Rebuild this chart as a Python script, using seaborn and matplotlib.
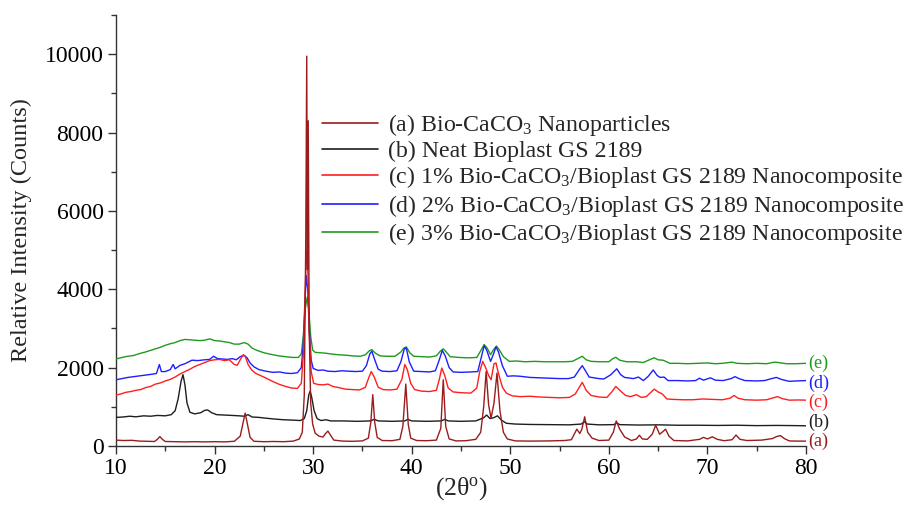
import numpy as np
import pandas as pd
import matplotlib
matplotlib.use("Agg")
import matplotlib.pyplot as plt
from matplotlib.ticker import MultipleLocator
import seaborn as sns

# ---- XRD patterns: 2-theta (deg) and intensity (counts) ----
a_tt = [10.0, 10.8, 11.6, 12.4, 13.2, 13.9, 14.2, 14.45, 14.7, 15.0, 16.0, 17.0, 18.0, 19.0, 20.0,
        21.0, 22.0, 22.6, 22.9, 23.1, 23.3, 23.6, 24.0, 25.0, 26.0, 27.0, 28.0, 28.6, 28.9, 29.1,
        29.25, 29.35, 29.42, 29.5, 29.6, 29.75, 29.95, 30.2, 30.6, 31.0, 31.3, 31.5, 31.75, 32.1,
        33.0, 34.0, 35.0, 35.6, 35.85, 36.05, 36.25, 36.5, 37.0, 38.0, 38.8, 39.1, 39.4, 39.65,
        39.9, 40.5, 41.5, 42.5, 42.95, 43.2, 43.45, 43.8, 44.5, 45.5, 46.5, 47.0, 47.3, 47.55,
        47.8, 48.05, 48.35, 48.65, 48.95, 49.3, 49.7, 50.5, 52.0, 54.0, 55.5, 56.2, 56.75, 57.05,
        57.25, 57.55, 57.85, 58.3, 59.0, 60.0, 60.45, 60.75, 61.1, 61.6, 62.3, 62.8, 63.1, 63.4,
        63.9, 64.4, 64.75, 65.15, 65.5, 65.75, 66.1, 66.6, 68.0, 69.2, 69.6, 70.0, 70.5, 71.0,
        71.7, 72.5, 72.9, 73.3, 74.0, 75.5, 76.6, 77.0, 77.4, 77.8, 78.3, 79.0, 80.0]
a_cnt = [150, 140, 145, 125, 120, 115, 170, 240, 170, 115, 110, 105, 110, 105, 110,
         105, 120, 250, 600, 840, 600, 220, 120, 110, 115, 110, 125, 180, 350, 1300,
         5200, 9950, 4500, 8300, 3000, 1100, 560, 330, 250, 230, 330, 380, 280, 150,
         125, 120, 130, 200, 600, 1310, 600, 220, 140, 135, 170, 500, 1580, 550,
         200, 140, 135, 150, 450, 1690, 500, 180, 130, 135, 170, 350, 1000, 1900,
         1050, 710, 1100, 1860, 900, 350, 180, 130, 125, 130, 140, 160, 430, 320,
         420, 745, 350, 200, 140, 150, 350, 640, 430, 230, 140, 180, 275, 180,
         170, 300, 530, 300, 370, 430, 250, 140, 130, 170, 220, 180, 235, 170,
         135, 160, 280, 170, 140, 150, 190, 240, 265, 190, 130, 125, 125]

b_tt = [10.0, 10.7, 11.4, 12.0, 12.8, 13.5, 14.2, 15.0, 15.6, 16.0, 16.3, 16.6, 16.8, 17.0, 17.2,
        17.5, 18.0, 18.6, 19.0, 19.3, 19.7, 20.2, 21.0, 21.8, 22.5, 23.0, 23.4, 23.8, 24.5, 25.2,
        26.0, 27.0, 28.0, 28.7, 29.1, 29.35, 29.55, 29.7, 29.85, 30.1, 30.4, 30.8, 31.3, 31.8,
        33.0, 34.5, 35.8, 36.2, 36.6, 38.0, 39.3, 39.6, 40.0, 41.5, 43.0, 43.35, 43.7, 45.0,
        46.5, 47.3, 47.6, 47.95, 48.3, 48.7, 49.1, 49.6, 50.5, 52.0, 54.0, 56.0, 57.2, 57.5,
        57.8, 59.0, 60.5, 60.8, 61.1, 63.0, 65.0, 67.0, 69.0, 71.0, 73.0, 75.0, 77.0, 79.0, 80.0]
b_cnt = [730, 740, 760, 745, 770, 760, 780, 770, 800, 900, 1200, 1650, 1820, 1550, 1100,
         860, 820, 850, 910, 920, 850, 800, 790, 780, 770, 760, 800, 740, 730, 710,
         690, 670, 660, 650, 700, 900, 1300, 1400, 1250, 900, 700, 650, 670, 640,
         640, 630, 640, 680, 640, 630, 640, 680, 640, 630, 640, 680, 640, 630,
         640, 720, 790, 700, 720, 770, 660, 580, 560, 550, 545, 540, 560, 620,
         560, 540, 545, 590, 545, 535, 540, 530, 530, 525, 530, 520, 525, 520, 515]

c_tt = [10.0, 10.5, 11.0, 11.5, 12.0, 12.5, 13.0, 13.5, 14.0, 14.5, 15.0, 15.5, 16.0, 16.5, 17.0,
        17.5, 18.0, 18.5, 19.0, 19.5, 20.0, 20.5, 21.0, 21.5, 22.0, 22.3, 22.6, 22.9, 23.1, 23.4,
        23.8, 24.2, 25.0, 25.8, 26.5, 27.2, 27.8, 28.4, 28.8, 29.05, 29.2, 29.32, 29.45, 29.6,
        29.8, 30.05, 30.5, 31.0, 31.5, 32.0, 32.6, 33.3, 34.0, 34.7, 35.3, 35.65, 35.9, 36.2,
        36.6, 37.1, 37.8, 38.5, 39.0, 39.3, 39.55, 39.9, 40.3, 41.0, 41.8, 42.5, 42.8, 43.05,
        43.35, 43.7, 44.2, 45.0, 46.0, 46.6, 46.9, 47.2, 47.5, 47.8, 48.05, 48.35, 48.55, 48.8,
        49.2, 49.6, 50.2, 51.0, 52.0, 53.0, 54.0, 55.0, 56.0, 56.6, 57.0, 57.3, 57.7, 58.2,
        59.0, 59.8, 60.3, 60.7, 61.2, 61.7, 62.2, 62.8, 63.3, 63.8, 64.3, 64.6, 65.0, 65.4,
        65.9, 66.5, 67.5, 68.5, 69.5, 70.5, 71.5, 72.3, 72.7, 73.1, 73.8, 75.0, 76.0, 76.7,
        77.1, 77.6, 78.3, 79.2, 80.0]
c_cnt = [1300, 1330, 1370, 1390, 1420, 1440, 1490, 1520, 1580, 1610, 1660, 1700, 1760, 1840, 1900,
         1960, 2030, 2080, 2130, 2180, 2200, 2210, 2180, 2200, 2080, 2060, 2200, 2330, 2300, 2080,
         1930, 1850, 1760, 1660, 1580, 1520, 1480, 1470, 1600, 2500, 4000, 5000, 4600, 2900,
         1900, 1600, 1570, 1560, 1580, 1520, 1490, 1450, 1440, 1430, 1500, 1750, 1900, 1760,
         1500, 1440, 1430, 1450, 1700, 2080, 1950, 1600, 1440, 1400, 1390, 1420, 1700, 1990,
         1800, 1480, 1380, 1360, 1350, 1480, 1900, 2160, 2000, 1800, 1690, 2100, 2120, 1850,
         1500, 1350, 1280, 1260, 1270, 1250, 1240, 1230, 1240, 1330, 1500, 1625, 1420, 1290,
         1250, 1240, 1380, 1520, 1400, 1290, 1260, 1310, 1240, 1260, 1380, 1450, 1380, 1330,
         1200, 1190, 1180, 1180, 1200, 1190, 1180, 1220, 1290, 1220, 1180, 1170, 1180, 1230,
         1260, 1210, 1170, 1175, 1170]

d_tt = [10.0, 10.6, 11.2, 11.8, 12.4, 13.0, 13.6, 14.1, 14.4, 14.6, 15.0, 15.5, 15.8, 16.0, 16.5,
        17.0, 17.7, 18.3, 19.0, 19.5, 19.9, 20.3, 20.8, 21.3, 21.8, 22.2, 22.6, 23.0, 23.3, 23.6,
        24.0, 24.5, 25.2, 25.9, 26.6, 27.2, 27.8, 28.4, 28.8, 29.0, 29.15, 29.3, 29.45, 29.6,
        29.8, 30.0, 30.5, 31.0, 31.5, 32.2, 32.9, 33.6, 34.3, 35.0, 35.4, 35.75, 35.95, 36.25,
        36.6, 37.0, 37.8, 38.5, 38.9, 39.25, 39.45, 39.75, 40.2, 41.0, 41.8, 42.4, 42.8, 43.1,
        43.4, 43.8, 44.2, 45.0, 46.0, 46.7, 47.0, 47.35, 47.6, 48.0, 48.3, 48.55, 48.8, 49.2,
        49.7, 50.3, 51.0, 52.0, 53.0, 54.0, 55.0, 55.9, 56.5, 57.0, 57.3, 57.6, 58.0, 59.0,
        59.5, 60.2, 60.8, 61.2, 61.6, 62.5, 63.0, 63.5, 64.0, 64.5, 64.9, 65.2, 65.6, 66.0,
        67.0, 68.0, 68.8, 69.2, 69.6, 70.3, 70.8, 71.6, 72.4, 72.8, 73.2, 73.8, 75.0, 75.8,
        76.5, 77.0, 77.5, 78.3, 79.0, 80.0]
d_cnt = [1690, 1720, 1750, 1770, 1790, 1810, 1830, 1850, 2080, 1900, 1900, 1950, 2080, 1970, 2060,
         2100, 2190, 2180, 2200, 2210, 2290, 2230, 2220, 2210, 2230, 2200, 2280, 2310, 2250, 2120,
         2020, 1950, 1910, 1880, 1890, 1860, 1850, 1870, 2000, 2600, 3600, 4350, 4000, 3000,
         2200, 1980, 1930, 1940, 1910, 1900, 1920, 1910, 1900, 1910, 2050, 2350, 2420, 2200,
         1960, 1910, 1900, 1920, 2150, 2480, 2500, 2150, 1910, 1900, 1890, 1920, 2200, 2440,
         2300, 2000, 1890, 1880, 1890, 1900, 2200, 2560, 2450, 2160, 2350, 2530, 2400, 2050,
         1780, 1790, 1780, 1750, 1740, 1730, 1720, 1720, 1760, 1950, 2050, 1930, 1760, 1720,
         1710, 1820, 1970, 1820, 1750, 1720, 1760, 1670, 1780, 1940, 1800, 1750, 1760, 1670,
         1670, 1660, 1670, 1730, 1680, 1740, 1680, 1670, 1720, 1770, 1720, 1670, 1660, 1670,
         1720, 1750, 1700, 1650, 1660, 1670]

e_tt = [10.0, 10.6, 11.2, 11.8, 12.4, 13.0, 13.5, 14.0, 14.5, 15.0, 15.5, 16.0, 16.5, 17.0, 17.5,
        18.0, 18.5, 19.0, 19.5, 20.0, 20.5, 21.0, 21.5, 22.0, 22.5, 23.0, 23.4, 23.8, 24.3, 25.0,
        25.7, 26.5, 27.2, 27.9, 28.5, 28.8, 29.0, 29.2, 29.4, 29.55, 29.75, 29.95, 30.2, 30.7,
        31.2, 31.8, 32.5, 33.2, 34.0, 34.8, 35.3, 35.7, 35.95, 36.3, 36.8, 37.5, 38.3, 38.9,
        39.2, 39.45, 39.8, 40.2, 41.0, 41.8, 42.5, 42.9, 43.2, 43.5, 43.9, 44.8, 45.8, 46.6,
        47.0, 47.35, 47.65, 48.0, 48.3, 48.6, 48.9, 49.3, 49.9, 50.6, 51.5, 52.5, 53.5, 54.5,
        55.5, 56.3, 57.0, 57.3, 57.7, 58.2, 59.0, 60.0, 60.4, 60.7, 61.1, 61.8, 62.8, 63.5,
        64.2, 64.6, 65.0, 65.5, 66.2, 67.0, 68.0, 69.0, 70.0, 70.8, 71.5, 72.5, 73.0, 74.0,
        75.0, 76.0, 76.8, 77.2, 78.0, 79.0, 80.0]
e_cnt = [2220, 2260, 2290, 2310, 2360, 2400, 2440, 2480, 2520, 2570, 2610, 2640, 2690, 2720, 2710,
         2700, 2690, 2700, 2735, 2690, 2680, 2660, 2640, 2600, 2600, 2640, 2600, 2500, 2440, 2380,
         2340, 2300, 2280, 2260, 2260, 2350, 2800, 3500, 3800, 3500, 2800, 2450, 2390, 2380,
         2370, 2350, 2330, 2320, 2300, 2290, 2330, 2430, 2460, 2370, 2300, 2290, 2290, 2400,
         2500, 2530, 2380, 2290, 2280, 2270, 2300, 2420, 2480, 2400, 2280, 2260, 2250, 2260,
         2430, 2590, 2500, 2330, 2460, 2550, 2450, 2280, 2160, 2170, 2150, 2160, 2150, 2150,
         2150, 2160, 2250, 2290, 2200, 2160, 2150, 2150, 2230, 2265, 2190, 2150, 2150, 2130,
         2210, 2250, 2200, 2190, 2110, 2110, 2100, 2110, 2120, 2100, 2110, 2140, 2110, 2100,
         2110, 2100, 2140, 2130, 2100, 2100, 2110]

labels = [
    "(a) Bio-CaCO$_3$ Nanoparticles",
    "(b) Neat Bioplast GS 2189",
    "(c) 1% Bio-CaCO$_3$/Bioplast GS 2189 Nanocomposite",
    "(d) 2% Bio-CaCO$_3$/Bioplast GS 2189 Nanocomposite",
    "(e) 3% Bio-CaCO$_3$/Bioplast GS 2189 Nanocomposite",
]
tags = ["(a)", "(b)", "(c)", "(d)", "(e)"]
colors = ["#9a1c1c", "#1e1e1e", "#ff1e1e", "#1e1eff", "#1f9a1f"]

x_ticks = [10, 20, 30, 40, 50, 60, 70, 80]
y_ticks = [0, 2000, 4000, 6000, 8000, 10000]

# ---- style ----
sns.set_theme(style="ticks")
plt.rcParams["font.family"] = ["Liberation Serif", "DejaVu Serif"]
plt.rcParams["mathtext.fontset"] = "custom"
plt.rcParams["mathtext.rm"] = "Liberation Serif"
plt.rcParams["mathtext.it"] = "Liberation Serif:italic"
plt.rcParams["mathtext.bf"] = "Liberation Serif:bold"

fig = plt.figure(figsize=(9.09, 5.05), dpi=100)
ax = fig.add_axes([116 / 909, 1 - 446 / 505, 690 / 909, 431 / 505])

series = [(a_tt, a_cnt), (b_tt, b_cnt), (c_tt, c_cnt), (d_tt, d_cnt), (e_tt, e_cnt)]
frames = []
for lbl, (tt, cnt) in zip(labels, series):
    frames.append(pd.DataFrame({"two_theta": tt, "counts": cnt, "sample": lbl}))
df = pd.concat(frames, ignore_index=True)

zorders = [7, 6, 5, 4, 3]
for lbl, col, z in zip(labels, colors, zorders):
    sub = df[df["sample"] == lbl]
    sns.lineplot(data=sub, x="two_theta", y="counts", ax=ax, color=col, lw=1.0,
                 label=lbl, zorder=z, estimator=None, sort=False)

ax.set_xlim(10, 80)
ax.set_ylim(0, 11000)
ax.set_xticks(x_ticks)
ax.set_yticks(y_ticks)
ax.xaxis.set_minor_locator(MultipleLocator(5))
ax.yaxis.set_minor_locator(MultipleLocator(1000))
ax.tick_params(which="major", direction="out", length=6, width=1.0, colors="#333333",
               labelsize=17, labelcolor="black", pad=3)
ax.tick_params(which="minor", direction="out", length=3.5, width=1.0, colors="#333333")
for side in ["top", "right"]:
    ax.spines[side].set_visible(False)
for side in ["left", "bottom"]:
    ax.spines[side].set_color("#333333")
    ax.spines[side].set_linewidth(1.0)

ax.set_xlabel("(2θ$^{\\mathrm{o}}$)", fontsize=18.5, labelpad=-3)
ax.set_ylabel("Relative Intensity (Counts)", fontsize=17.5, labelpad=9)

# curve tags just past the right end of the x axis
tag_y = [130, 615, 1125, 1610, 2100]
for tag, col, ty in zip(tags, colors, tag_y):
    ax.text(80.25, ty, tag, color=col, fontsize=13, ha="left", va="center",
            clip_on=False)

leg = ax.legend(loc="upper left", bbox_to_anchor=(322 / 909, 1 - 112 / 505),
                bbox_transform=fig.transFigure, frameon=False, fontsize=17.2,
                handlelength=2.35, handletextpad=0.4, labelspacing=0.1, borderpad=0,
                borderaxespad=0)
for line in leg.get_lines():
    line.set_linewidth(1.2)

fig.savefig("out.png", dpi=100)
